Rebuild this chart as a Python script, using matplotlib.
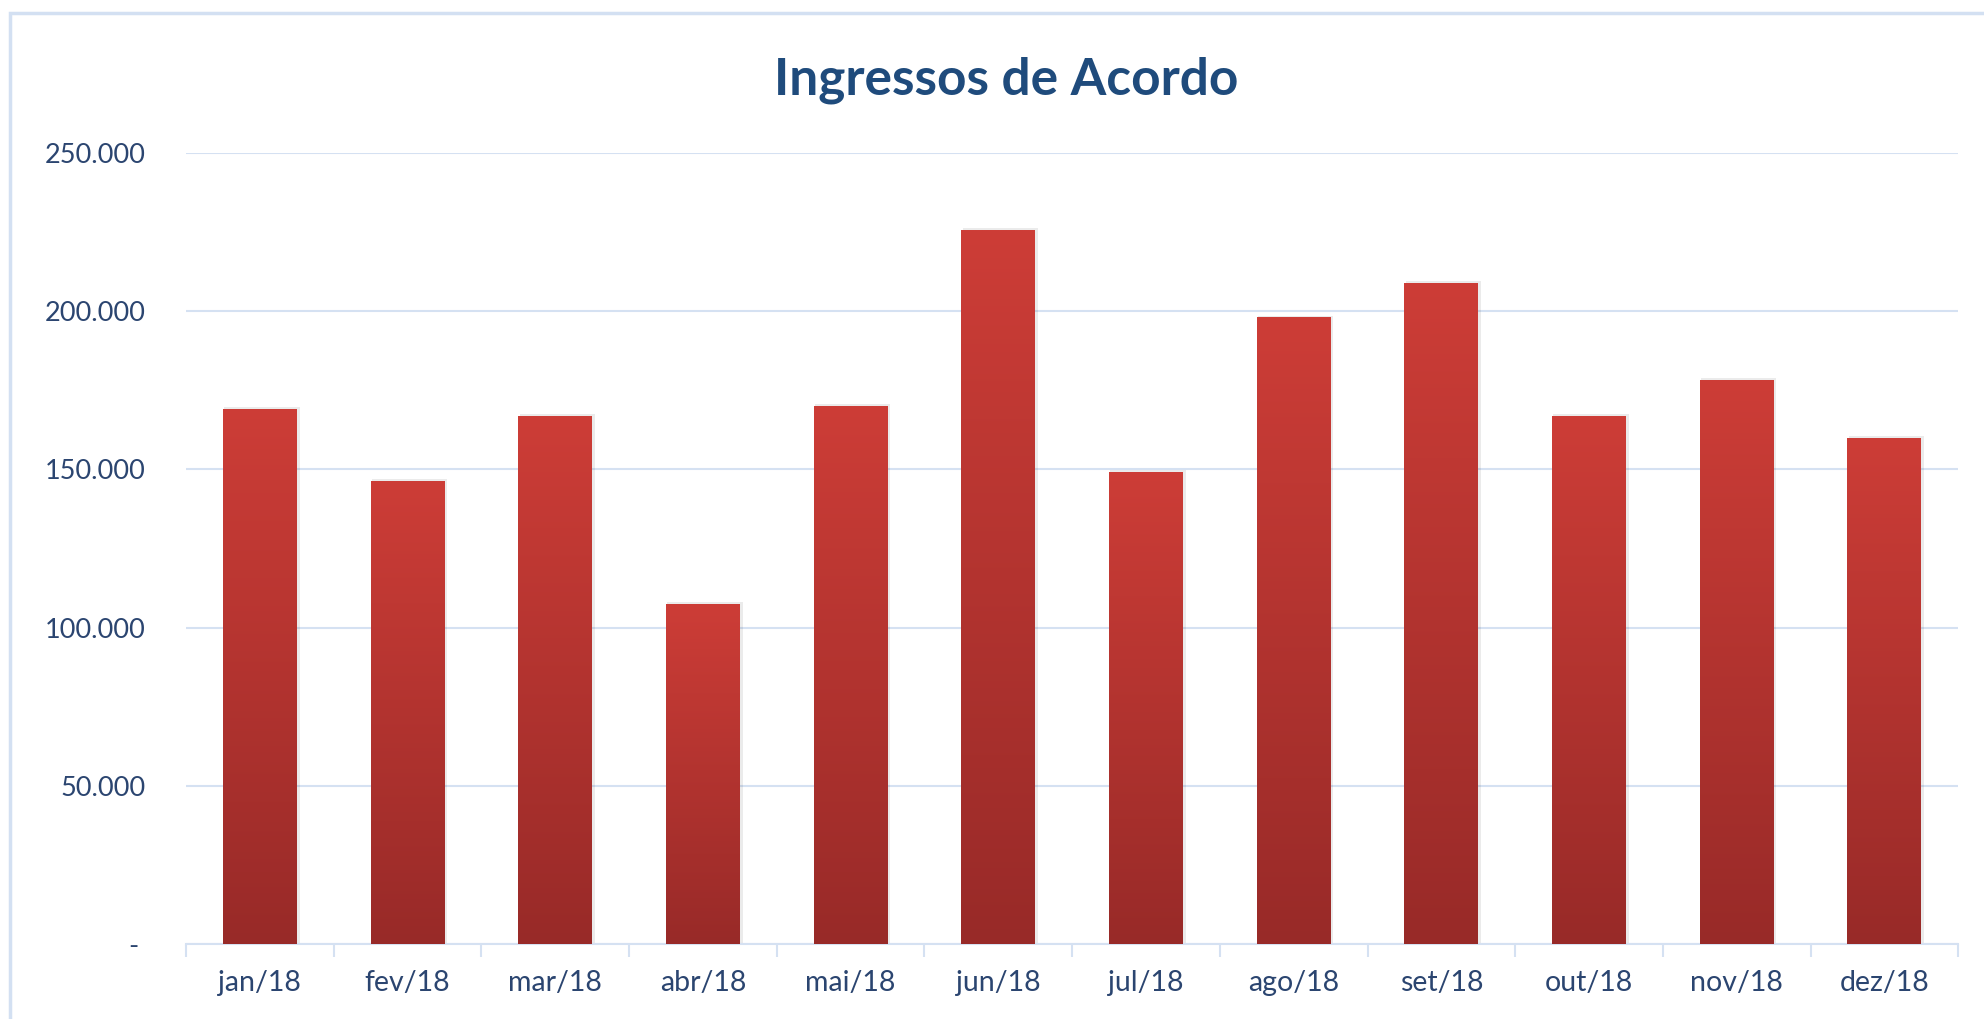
import matplotlib.pyplot as plt
import matplotlib.patches as mpatches
from matplotlib.colors import LinearSegmentedColormap
from matplotlib.ticker import FixedLocator
import numpy as np

months = ["jan/18", "fev/18", "mar/18", "abr/18", "mai/18", "jun/18",
          "jul/18", "ago/18", "set/18", "out/18", "nov/18", "dez/18"]
ingressos = [169200, 146400, 166800, 107600, 170000, 225600,
             149200, 198000, 208800, 166800, 178400, 160000]
y_ticks = [0, 50000, 100000, 150000, 200000, 250000]
y_tick_labels = ["- ", "50.000", "100.000", "150.000", "200.000", "250.000"]

plt.rcParams['font.family'] = ['Lato', 'DejaVu Sans']

label_color = "#2B4570"
grid_color = "#D5E1F2"
bar_cmap = LinearSegmentedColormap.from_list("bar", ["#982A28", "#CD3D37"])

fig = plt.figure(figsize=(19.84, 10.19), dpi=100)
ax = fig.add_axes([0.0938, 0.0736, 0.8932, 0.7763])

x = np.arange(len(months))
bars = ax.bar(x, ingressos, width=0.5, color="none", edgecolor="none", zorder=3)

grad = np.linspace(0, 1, 256).reshape(-1, 1)
for b in bars:
    x0, y0 = b.get_x(), b.get_y()
    w, h = b.get_width(), b.get_height()
    # soft shadow behind each bar
    sh = mpatches.Rectangle((x0 + 0.008, y0), w + 0.01, h + 600,
                            facecolor="#000000", alpha=0.08, edgecolor="none", zorder=2)
    ax.add_patch(sh)
    im = ax.imshow(grad, extent=[x0, x0 + w, y0, y0 + h], origin="lower",
                   cmap=bar_cmap, aspect="auto", zorder=3, interpolation="bilinear")
    im.set_clip_path(b)

ax.set_xlim(-0.5, len(months) - 0.5)
ax.set_ylim(0, 250000)

ax.set_yticks(y_ticks)
ax.set_yticklabels(y_tick_labels)
ax.set_xticks(x)
ax.set_xticklabels(months)
ax.xaxis.set_minor_locator(FixedLocator(np.arange(-0.5, len(months), 1.0)))

ax.tick_params(axis="y", length=0, pad=29, labelsize=19.5, labelcolor=label_color)
ax.tick_params(axis="x", which="major", length=0, pad=19, labelsize=20.5, labelcolor=label_color)
ax.tick_params(axis="x", which="minor", length=9, width=1.5, color=grid_color, direction="out")

ax.grid(axis="y", color=grid_color, linewidth=1.5, zorder=0)
ax.set_axisbelow(True)
for s in ["top", "right", "left"]:
    ax.spines[s].set_visible(False)
ax.spines["bottom"].set_color(grid_color)
ax.spines["bottom"].set_linewidth(1.5)

fig.text(0.507, 0.921, "Ingressos de Acordo", ha="center", va="center",
         fontsize=37, fontweight="bold", color="#1F4B7C")

border = mpatches.Rectangle((10 / 1984, -0.1), 1.2, 1 - 13 / 1019 + 0.1,
                            transform=fig.transFigure, fill=False,
                            edgecolor="#D3E0F2", linewidth=2.5)
fig.patches.append(border)

fig.savefig("out.png", dpi=100)
